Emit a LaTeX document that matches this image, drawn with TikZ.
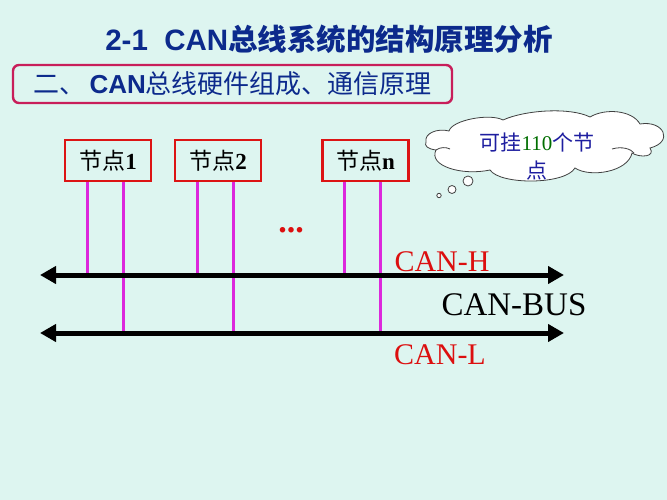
\documentclass[tikz,border=0pt]{standalone}
\usepackage{fontspec}
\setmainfont{Liberation Serif}
\newfontfamily\cjk{Noto Sans CJK SC}
\newfontfamily\arial{Liberation Sans}
\usetikzlibrary{arrows.meta,calc}
\definecolor{bgc}{RGB}{221,245,240}
\definecolor{titleblue}{RGB}{12,42,140}
\definecolor{boxred}{RGB}{220,20,20}
\definecolor{subred}{RGB}{200,30,90}
\definecolor{wiremag}{RGB}{220,40,220}
\definecolor{cloudblue}{RGB}{30,30,160}
\definecolor{cloudgreen}{RGB}{0,110,0}
\definecolor{canred}{RGB}{220,15,15}
\tikzset{
  nodebox/.style={draw=boxred, line width=2.8pt, fill=bgc, minimum width=86pt, minimum height=41pt, inner sep=0pt,
    font=\fontsize{23}{23}\selectfont},
  wire/.style={draw=wiremag, line width=3pt},
  bus/.style={draw=black, line width=5pt, {Triangle[length=16pt,width=17pt]}-{Triangle[length=16pt,width=17pt]}},
  canlabel/.style={text=canred, font=\fontsize{30}{30}\selectfont, inner sep=0pt},
  cloudline/.style={draw=black!75, line width=0.8pt},
}
\begin{document}
\begin{tikzpicture}[x=1pt,y=-1pt]
\fill[bgc] (0,0) rectangle (667,500);
\useasboundingbox (0,0) rectangle (667,500);

% title
\node[text=titleblue, inner sep=0pt] (title) at (329,39)
  {\fontsize{29.5}{29.5}\selectfont\arial\bfseries 2-1\ \ CAN\cjk\bfseries 总线系统的结构原理分析};

% subtitle box
\node[draw=subred, line width=2.4pt, rounded corners=6pt, minimum width=439pt, minimum height=38pt,
  inner sep=0pt, text=titleblue] (sub) at (232.5,84)
  {\fontsize{26}{26}\selectfont\cjk 二、\,\arial\bfseries CAN\cjk\mdseries 总线硬件组成、通信原理};

% nodes
\node[nodebox] (n1) at (108,160.5) {\cjk 节点\rmfamily\bfseries 1};
\node[nodebox] (n2) at (218,160.5) {\cjk 节点\rmfamily\bfseries 2};
\node[nodebox] (nn) at (365.5,160.5) {\cjk 节点\rmfamily\bfseries n};

% bus coordinates
\coordinate (hL) at (40,275);
\coordinate (hR) at (564,275);
\coordinate (lL) at (40,333);
\coordinate (lR) at (564,333);

% wire taps
\foreach \n in {n1,n2,nn}{
  \coordinate (\n a) at ($(\n.south)+(-21,0)$);
  \coordinate (\n b) at ($(\n.south)+(15,0)$);
  \draw[wire] (\n a) -- (\n a |- hL);
  \draw[wire] (\n b) -- (\n b |- lL);
}

% buses
\draw[bus] (hL) -- (hR);
\draw[bus] (lL) -- (lR);

% dots
\node[text=canred, inner sep=0pt] (dots) at (291,230) {\fontsize{34}{34}\selectfont\bfseries ...};

% labels
\node[canlabel] (canh) at (442,262) {CAN-H};
\node[inner sep=0pt, font=\fontsize{33}{33}\selectfont] (canbus) at (514,305) {CAN-BUS};
\node[canlabel] (canl) at (440,355) {CAN-L};

% cloud
\filldraw[cloudline, fill=white]
  (426,142) .. controls (424,133) and (438,128) .. (449,131)
  .. controls (452,120) and (490,113) .. (503,120)
  .. controls (525,110) and (570,107) .. (590,117)
  .. controls (605,108) and (632,110) .. (640,124)
  .. controls (664,120) and (674,142) .. (650,148)
  .. controls (656,157) and (640,158) .. (632,153)
  .. controls (628,172) and (590,178) .. (575,168)
  .. controls (565,185) and (500,185) .. (490,170)
  .. controls (462,176) and (428,166) .. (436,150)
  .. controls (428,149) and (424,146) .. (426,142) -- cycle;
\draw[cloudline] (612,149) .. controls (622,146) and (631,149) .. (634,153);
\draw[cloudline] (436,150) .. controls (440,147) and (446,147) .. (450,149);
\node[align=center, inner sep=0pt, text=cloudblue, font=\fontsize{21}{28}\selectfont] (ctext) at (537,156)
  {\cjk 可挂\rmfamily\textcolor{cloudgreen}{110}\cjk 个节\\ \cjk 点};
\draw[cloudline, fill=white] (468,181) circle (5);
\draw[cloudline, fill=white] (452,189.5) circle (4);
\draw[cloudline, fill=white] (439,195.5) circle (2.2);
\end{tikzpicture}
\end{document}
